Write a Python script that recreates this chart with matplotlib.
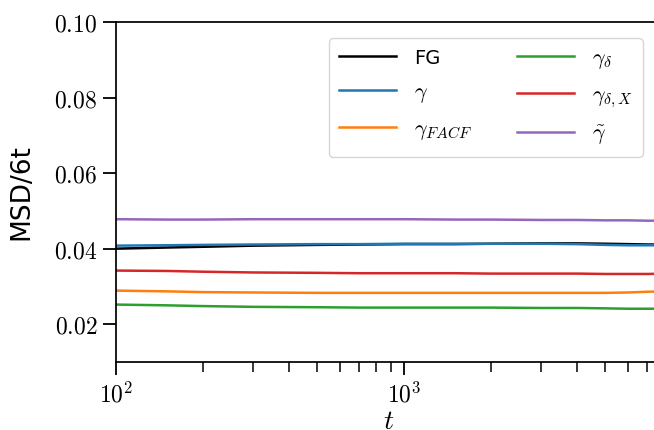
import numpy as np
import matplotlib
matplotlib.use("Agg")
import matplotlib.pyplot as plt
from matplotlib.ticker import FixedLocator, FuncFormatter

plt.rcParams["mathtext.fontset"] = "cm"
plt.rcParams["font.family"] = ["DejaVu Sans"]

# Lag times and MSD/6t for each estimator
t = [100, 150, 200, 300, 500, 700, 1000, 1500, 2000, 3000, 4000, 5000, 6000, 7000, 8000]
msd_fg = [0.0400, 0.0403, 0.0405, 0.0408, 0.0410, 0.0411, 0.0412, 0.0412, 0.0413, 0.0414, 0.0414, 0.0413, 0.0412, 0.0411, 0.0411]
gamma = [0.0408, 0.0409, 0.0410, 0.0411, 0.0412, 0.0412, 0.0413, 0.0413, 0.0413, 0.0413, 0.0412, 0.0410, 0.0409, 0.0409, 0.0409]
gamma_facf = [0.0289, 0.0287, 0.0285, 0.0284, 0.0283, 0.0283, 0.0283, 0.0283, 0.0283, 0.0283, 0.0283, 0.0283, 0.0284, 0.0286, 0.0287]
gamma_delta = [0.0252, 0.0250, 0.0248, 0.0246, 0.0245, 0.0244, 0.0244, 0.0244, 0.0244, 0.0243, 0.0243, 0.0242, 0.0241, 0.0241, 0.0241]
gamma_delta_x = [0.0342, 0.0341, 0.0339, 0.0337, 0.0336, 0.0335, 0.0335, 0.0335, 0.0334, 0.0334, 0.0334, 0.0333, 0.0333, 0.0333, 0.0334]
gamma_tilde = [0.0478, 0.0477, 0.0477, 0.0478, 0.0478, 0.0478, 0.0478, 0.0477, 0.0477, 0.0476, 0.0476, 0.0475, 0.0475, 0.0474, 0.0474]

series = [
    ("FG", msd_fg, "black"),
    (r"$\gamma$", gamma, "#1f77b4"),
    (r"$\gamma_{FACF}$", gamma_facf, "#ff7f0e"),
    (r"$\gamma_{\delta}$", gamma_delta, "#2ca02c"),
    (r"$\gamma_{\delta,X}$", gamma_delta_x, "#d62728"),
    (r"$\tilde{\gamma}$", gamma_tilde, "#9467bd"),
]

y_ticks = [0.02, 0.04, 0.06, 0.08, 0.10]
x_major = [100, 1000]

fig = plt.figure(figsize=(6.54, 4.30), dpi=100)
ax = fig.add_axes([116 / 654, 1 - 362 / 430, 545 / 654, 340 / 430])

for label, vals, color in series:
    ax.plot(t, vals, color=color, lw=1.8, label=label)

ax.set_xscale("log")
ax.set_xlim(100, 7800)
ax.set_ylim(0.01, 0.10)
ax.set_yticks(y_ticks)
ax.set_yticklabels([rf"${v:.2f}$" for v in y_ticks])
ax.xaxis.set_major_locator(FixedLocator(x_major))
ax.xaxis.set_major_formatter(FuncFormatter(lambda v, p: rf"$10^{{{int(round(np.log10(v)))}}}$"))

for s in ["left", "bottom", "top", "right"]:
    ax.spines[s].set_linewidth(1.25)
ax.spines["right"].set_visible(False)

ax.tick_params(axis="both", which="major", direction="out", length=9.5, width=1.3, labelsize=17, pad=4)
ax.tick_params(axis="x", which="minor", direction="out", length=7, width=1.1, labelbottom=False)
ax.tick_params(axis="y", which="minor", left=False)
ax.tick_params(axis="x", which="major", pad=5)

ax.set_xlabel(r"$t$", fontsize=20, labelpad=0)
ax.set_ylabel("MSD/6t", fontsize=19, labelpad=14)

leg = ax.legend(ncol=2, loc="upper right", bbox_to_anchor=(0.987, 0.985), fontsize=16,
                frameon=True, fancybox=True, edgecolor="#cccccc", handlelength=2.6,
                columnspacing=2.0, handletextpad=0.8, labelspacing=0.62, borderpad=0.45)
leg.get_frame().set_linewidth(1.0)
leg.get_texts()[0].set_fontsize(14)

fig.savefig("out.png", dpi=100)
